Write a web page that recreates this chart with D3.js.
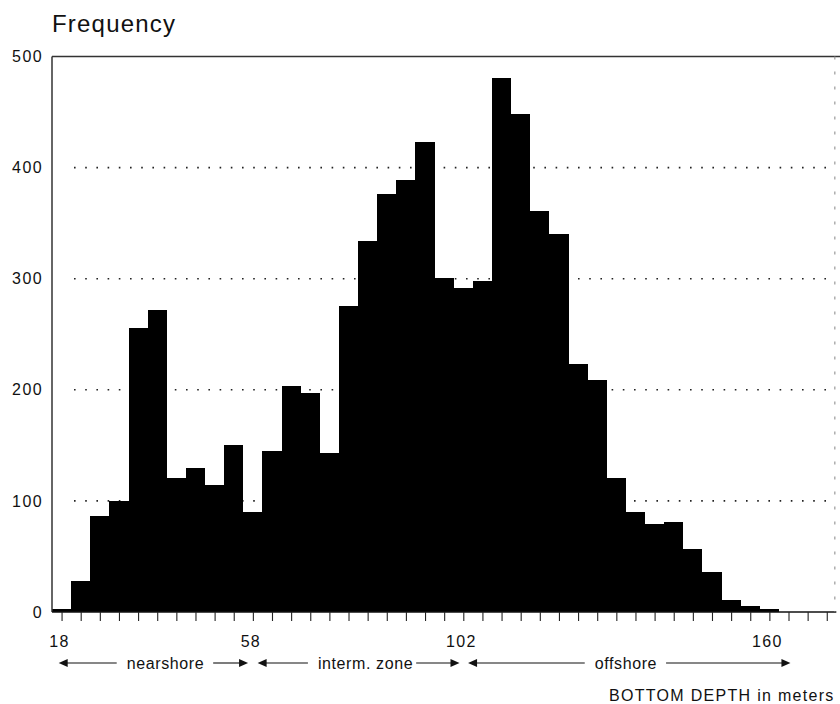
<!DOCTYPE html>
<html>
<head>
<meta charset="utf-8">
<script src="https://cdn.jsdelivr.net/npm/d3@7/dist/d3.min.js"></script>
<style>
  html, body { margin: 0; padding: 0; background: #fff; }
  svg { display: block; font-family: "Liberation Sans", Arial, Helvetica, sans-serif; }
</style>
</head>
<body>
<svg id="chart" width="840" height="704"></svg>
<script>
// ---- data ----
// frequency per depth bin (bins in order, left to right)
const binCounts = [3, 28, 86, 100, 256, 272, 121, 130, 114, 150, 90, 145, 203, 197, 143,
                   275, 334, 376, 389, 423, 301, 292, 298, 481, 448, 361, 340, 223, 209,
                   121, 90, 79, 81, 57, 36, 11, 5, 3];
const totalBins = 41;                       // bins shown along the axis
const xTickLabels = ["18", "58", "102", "160"];
const xTickLabelBins = [0, 10, 21, 37];    // bin carrying each depth label
const yTickValues = [0, 100, 200, 300, 400, 500];
const gridValues = [100, 200, 300, 400];
const zoneNames = ["nearshore", "interm. zone", "offshore"];
const zoneStart = [0.35, 10.75, 21.75];     // in bin units
const zoneEnd = [10.25, 21.3, 38.6];
const zoneTextCenter = [5.93, 16.39, 30.0];
const yTitle = "Frequency";
const xTitle = "BOTTOM DEPTH in meters";

// ---- scales ----
const svg = d3.select("#chart");
const x = d3.scaleLinear().domain([0, totalBins]).range([52, 52 + totalBins * 19.13]);
const y = d3.scaleLinear().domain([0, 500]).range([612, 56.5]);

// grid (dotted)
svg.append("g").selectAll("line").data(gridValues).join("line")
  .attr("x1", 74).attr("x2", 830)
  .attr("y1", d => y(d)).attr("y2", d => y(d))
  .attr("stroke", "#222").attr("stroke-width", 1.6)
  .attr("stroke-dasharray", "1.6,9.6");

// bars
svg.append("g").selectAll("rect").data(binCounts).join("rect")
  .attr("x", (d, i) => x(i))
  .attr("width", (d, i) => x(i + 1) - x(i))
  .attr("y", d => y(d))
  .attr("height", d => y(0) - y(d))
  .attr("fill", "#000")
  .attr("shape-rendering", "crispEdges");

// frame
const frame = svg.append("g").attr("stroke", "#333").attr("fill", "none");
frame.append("line").attr("x1", x(0)).attr("x2", x(0)).attr("y1", y(500)).attr("y2", y(0)).attr("stroke-width", 1.5);
frame.append("line").attr("x1", x(0)).attr("x2", 840).attr("y1", y(500)).attr("y2", y(500)).attr("stroke-width", 1.3);
frame.append("line").attr("x1", x(0)).attr("x2", x(totalBins)).attr("y1", y(0)).attr("y2", y(0)).attr("stroke-width", 1.5).attr("stroke", "#111");
frame.append("line").attr("x1", x(totalBins) - 1.5).attr("x2", x(totalBins) - 1.5)
  .attr("y1", y(500)).attr("y2", y(0)).attr("stroke-width", 1.2)
  .attr("stroke-dasharray", "3,12").attr("stroke", "#999");

// x axis ticks at bin centres
const xAxis = d3.axisBottom(x)
  .tickValues(d3.range(0, totalBins).map(i => i + 0.5))
  .tickSize(9).tickFormat("");
const xg = svg.append("g").attr("transform", `translate(0,${y(0)})`).call(xAxis);
xg.select(".domain").remove();
xg.selectAll(".tick line").attr("stroke", "#222").attr("stroke-width", 1.1);

// x tick labels
svg.append("g").selectAll("text").data(xTickLabels).join("text")
  .attr("x", (d, i) => x(xTickLabelBins[i] + 0.5) - 2)
  .attr("y", 647)
  .attr("text-anchor", "middle")
  .attr("font-size", 16).attr("letter-spacing", 1.3).attr("fill", "#111")
  .text(d => d);

// y axis labels
const yAxis = d3.axisLeft(y).tickValues(yTickValues).tickSize(0).tickPadding(9);
const yg = svg.append("g").attr("transform", `translate(${x(0)},0)`).call(yAxis);
yg.select(".domain").remove();
yg.selectAll("text").attr("font-size", 16).attr("letter-spacing", 1.4)
  .attr("fill", "#111").attr("font-family", "Liberation Sans, Arial, sans-serif");

// y title
svg.append("text").attr("x", 52).attr("y", 32)
  .attr("font-size", 24).attr("letter-spacing", 1.2).attr("fill", "#111")
  .text(yTitle);

// zone arrows
const arrowY = 663;
const zg = svg.append("g");
zoneNames.forEach((name, i) => {
  const t = zg.append("text").attr("x", x(zoneTextCenter[i])).attr("y", arrowY + 6)
    .attr("text-anchor", "middle").attr("font-size", 16).attr("letter-spacing", 0.6)
    .attr("fill", "#111").text(name);
  const w = t.node().getComputedTextLength();
  const tx0 = x(zoneTextCenter[i]) - w / 2, tx1 = x(zoneTextCenter[i]) + w / 2;
  const xs = x(zoneStart[i]), xe = x(zoneEnd[i]);
  zg.append("line").attr("x1", xs + 6).attr("x2", tx0 - 10).attr("y1", arrowY).attr("y2", arrowY)
    .attr("stroke", "#111").attr("stroke-width", 1.1);
  zg.append("line").attr("x1", tx1 + (i === 1 ? 3 : 9)).attr("x2", xe - 6).attr("y1", arrowY).attr("y2", arrowY)
    .attr("stroke", "#111").attr("stroke-width", 1.1);
  zg.append("path").attr("d", `M${xs},${arrowY} L${xs + 9},${arrowY - 4} L${xs + 9},${arrowY + 4} Z`).attr("fill", "#111");
  zg.append("path").attr("d", `M${xe},${arrowY} L${xe - 9},${arrowY - 4} L${xe - 9},${arrowY + 4} Z`).attr("fill", "#111");
});

// x title (kept fully inside the picture)
const xt = svg.append("text").attr("x", 609).attr("y", 701)
  .attr("font-size", 16).attr("letter-spacing", 1.3).attr("fill", "#111")
  .text(xTitle);
const xtw = xt.node().getComputedTextLength();
if (609 + xtw > 837) xt.attr("x", 837 - xtw);
</script>
</body>
</html>
